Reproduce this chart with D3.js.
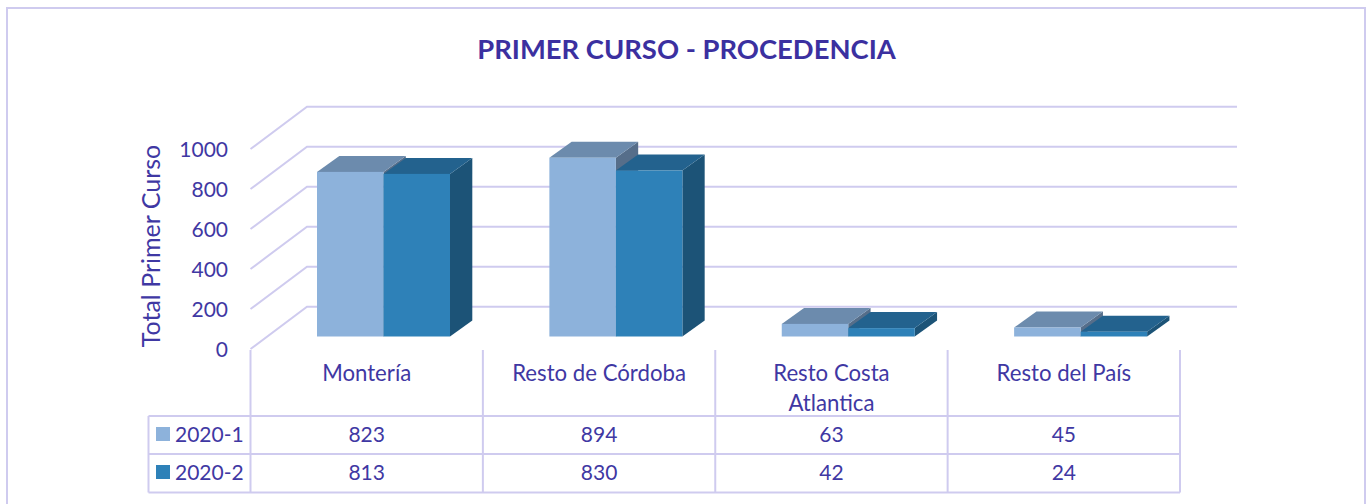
<!DOCTYPE html>
<html><head><meta charset="utf-8">
<script src="https://cdn.jsdelivr.net/npm/d3@7"></script>
<style>html,body{margin:0;padding:0;background:#fff;overflow:hidden}svg{display:block}text{font-family:Lato,"Open Sans",sans-serif;fill:#3F38A3}</style>
</head><body><svg id="c" width="1370" height="504"></svg>
<script>
const categories = ["Montería","Resto de Córdoba","Resto Costa Atlantica","Resto del País"];
const categoryLines = [["Montería"],["Resto de Córdoba"],["Resto Costa","Atlantica"],["Resto del País"]];
const seriesNames = ["2020-1","2020-2"];
const values1 = [823,894,63,45];
const values2 = [813,830,42,24];
const yTicks = [0,200,400,600,800,1000];
const seriesValues = [values1,values2];
const faceColors = [
  {front:"#8DB2DB",top:"#6C8BAD",side:"#566E8A"},
  {front:"#2E81B8",top:"#23628E",side:"#1C5377"}
];
const gridC = "#CFCBEF";
const svg = d3.select("#c");
svg.append("rect").attr("x",7).attr("y",8).attr("width",1358).attr("height",520).attr("fill","#fff").attr("stroke",gridC).attr("stroke-width",2);
svg.append("text").attr("x",686.5).attr("y",59).attr("text-anchor","middle").style("font-size","27.4px").style("font-weight",700).style("fill","#3B30A0").text("PRIMER CURSO - PROCEDENCIA");

const y = d3.scaleLinear().domain([0,1000]).range([349,149]);
const x = d3.scaleBand().domain(categories).range([250.5,1180]);
const xs = d3.scaleBand().domain(seriesNames).range([0,133]);
const depthX = 56.5, depthY = 42.3, backRight = 1237;
const barDX = 22.3, barDY = 16, barBase = 336.5, barOffset = 66.5;

// gridlines
const grid = svg.append("g").attr("fill","none").attr("stroke",gridC).attr("stroke-width",2);
yTicks.forEach(t=>{
  const p = d3.path();
  p.moveTo(x.range()[0],y(t));
  p.lineTo(x.range()[0]+depthX,y(t)-depthY);
  p.lineTo(backRight,y(t)-depthY);
  grid.append("path").attr("d",p.toString());
});
// y tick labels
const yAxis = svg.append("g").attr("transform","translate(228,0)").call(d3.axisLeft(y).tickValues(yTicks).tickFormat(d3.format("d")).tickSize(0).tickPadding(0));
yAxis.select(".domain").remove();
yAxis.selectAll("text").attr("dy",null).attr("y",7).style("font-size","21px").attr("x",0);
svg.append("text").attr("transform","translate(160,246) rotate(-90)").attr("text-anchor","middle").style("font-size","25px").text("Total Primer Curso");

// bars
const poly = (pts,fill)=>svg.append("polygon").attr("points",pts.map(p=>p.join(",")).join(" ")).attr("fill",fill);
categories.forEach((cat,ci)=>{
  seriesNames.forEach((s,si)=>{
    const v = seriesValues[si][ci];
    const x0 = x(cat)+barOffset+xs(s), x1 = x0+xs.bandwidth();
    const top = barBase-(y(0)-y(v));
    const c = faceColors[si];
    poly([[x1,barBase],[x1+barDX,barBase-barDY],[x1+barDX,top-barDY],[x1,top]],c.side);
    poly([[x0,top],[x0+barDX,top-barDY],[x1+barDX,top-barDY],[x1,top]],c.top);
  });
  seriesNames.forEach((s,si)=>{
    const v = seriesValues[si][ci];
    const x0 = x(cat)+barOffset+xs(s);
    const top = barBase-(y(0)-y(v));
    svg.append("rect").attr("x",x0).attr("y",top).attr("width",xs.bandwidth()).attr("height",barBase-top).attr("fill",faceColors[si].front);
  });
});

// data table
const rowY = [416,454,492.5], tableLeft = 148.5, tableTop = 350;
const tbl = svg.append("g").attr("stroke",gridC).attr("stroke-width",2);
rowY.forEach(r=>tbl.append("line").attr("x1",tableLeft).attr("x2",x.range()[1]).attr("y1",r).attr("y2",r));
[tableLeft].forEach(l=>tbl.append("line").attr("x1",l).attr("x2",l).attr("y1",rowY[0]).attr("y2",rowY[2]));
[...categories.map(c=>x(c)),x.range()[1]].forEach(l=>tbl.append("line").attr("x1",l).attr("x2",l).attr("y1",tableTop).attr("y2",rowY[2]));
categories.forEach((cat,ci)=>{
  const cx = x(cat)+x.bandwidth()/2;
  categoryLines[ci].forEach((ln,li)=>svg.append("text").attr("x",cx).attr("y",380.5+li*30).attr("text-anchor","middle").style("font-size","22.2px").text(ln));
  seriesNames.forEach((s,si)=>svg.append("text").attr("x",cx).attr("y",rowY[si]+26).attr("text-anchor","middle").style("font-size","21px").text(seriesValues[si][ci]));
});
seriesNames.forEach((s,si)=>{
  svg.append("rect").attr("x",156).attr("y",rowY[si]+11).attr("width",14).attr("height",14).attr("fill",faceColors[si].front);
  svg.append("text").attr("x",175).attr("y",rowY[si]+26).style("font-size","21px").text(s);
});
</script></body></html>
